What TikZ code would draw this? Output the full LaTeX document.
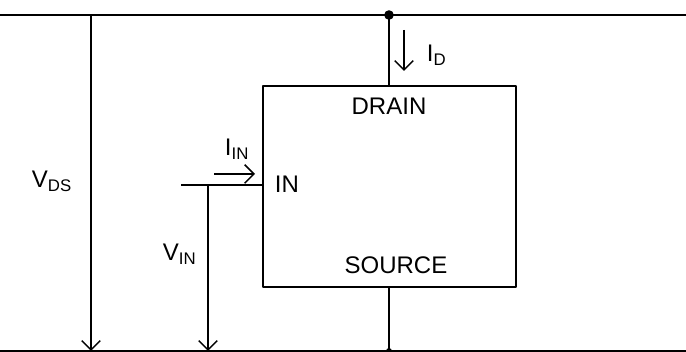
\documentclass[tikz,border=0pt]{standalone}
\usepackage{fontspec}
\setmainfont{Liberation Sans}
\usetikzlibrary{arrows.meta}
\begin{document}
\begin{tikzpicture}[x=0.75pt,y=-0.75pt,>={Straight Barb[length=7pt,width=14pt,line width=1.1pt]},line width=1.4pt,line join=round,
	lbl/.style={inner sep=0pt,font=\fontsize{18}{21}\selectfont,text=black}]
	\useasboundingbox (0,0) rectangle (686,352);
	\path
	(0,15) coordinate (TL)
	(686,15) coordinate (TR)
	(0,351) coordinate (BL)
	(686,351) coordinate (BR)
	(389,15) coordinate (T)
	(389,351) coordinate (B)
	(181,185) coordinate (P)
	(208,185) coordinate (J)
	(91,15) coordinate (VT)
	(91,351) coordinate (VB)
	(208,351) coordinate (VI)
	(404,30) coordinate (DA)
	(404,71) coordinate (DB)
	(214,174) coordinate (IA)
	(255,174) coordinate (IB)
	;
	\node[draw,minimum width=190pt,minimum height=150.75pt,inner sep=0pt,anchor=north west] (box) at (262,85) {};
	\draw (TL)--(TR) (BL)--(BR);
	\draw (T)--(T|-box.north) (box.south-|B)--(B);
	\draw (P)--(P-|box.west);
	\draw[->] (VT)--(VB);
	\draw[->] (J)--(VI);
	\draw[->,line width=1.1pt] (DA)--(DB);
	\draw[->,line width=1.1pt] (IA)--(IB);
	\fill[black] (T) circle (3.6pt) (B) circle (2.2pt);
	\node[lbl] (drain) at (389,106) {DRAIN};
	\node[lbl] (source) at (396,265) {SOURCE};
	\node[lbl,anchor=west] (in) at (274,184) {IN};
	\node[lbl,anchor=west] (id) at (426,55) {I\textsubscript{D}};
	\node[lbl,anchor=west] (iin) at (224,149) {I\textsubscript{IN}};
	\node[lbl,anchor=west] (vin) at (162,254) {V\textsubscript{IN}};
	\node[lbl,anchor=west] (vds) at (31,181) {V\textsubscript{DS}};
\end{tikzpicture}
\end{document}
